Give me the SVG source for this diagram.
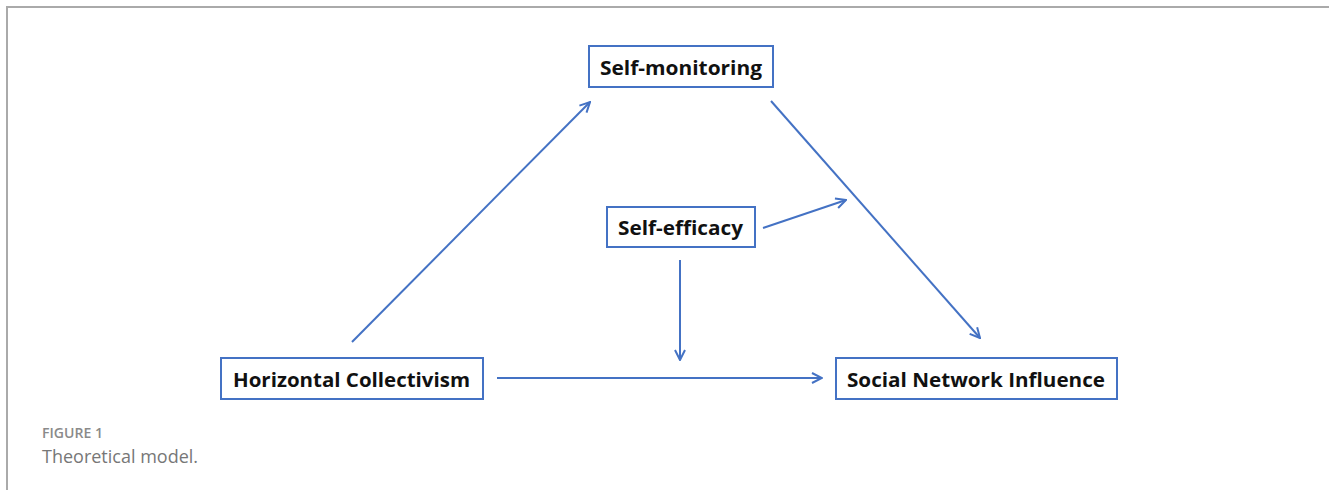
<svg xmlns="http://www.w3.org/2000/svg" width="1329" height="490" viewBox="0 0 1329 490">
<style>
.box{fill:#fff;stroke:#4472C4;stroke-width:2}
.lbl{font-family:"Open Sans","Liberation Sans",sans-serif;font-weight:bold;font-size:20px;fill:#111}
.con{stroke:#4472C4;stroke-width:2;fill:none;marker-end:url(#ah)}
.frame{stroke:#aaa;stroke-width:2;fill:none}
</style>
<defs>
<marker id="ah" viewBox="0 0 12 12" refX="11" refY="6" markerWidth="12" markerHeight="12" markerUnits="userSpaceOnUse" orient="auto">
<path d="M1,1 L11,6 L1,11" fill="none" stroke="#4472C4" stroke-width="2"/>
</marker>
</defs>
<rect width="1329" height="490" fill="#fff"/>
<path class="frame" d="M7,490 V7 H1329"/>
<g id="connectors">
<line class="con" x1="352" y1="342" x2="590" y2="102"/>
<line class="con" x1="771" y1="101" x2="980" y2="338"/>
<line class="con" x1="763" y1="228" x2="846" y2="200"/>
<line class="con" x1="680" y1="260" x2="680" y2="360"/>
<line class="con" x1="497" y1="378" x2="822" y2="378"/>
</g>
<g id="self-monitoring">
<rect class="box" x="589" y="46" width="184" height="41"/>
<text class="lbl" x="600" y="75" textLength="162" lengthAdjust="spacingAndGlyphs">Self-monitoring</text>
</g>
<g id="self-efficacy">
<rect class="box" x="607" y="207" width="148" height="40"/>
<text class="lbl" x="618" y="235" textLength="125" lengthAdjust="spacingAndGlyphs">Self-efficacy</text>
</g>
<g id="horizontal-collectivism">
<rect class="box" x="221" y="358" width="262" height="41"/>
<text class="lbl" x="233" y="387" textLength="237" lengthAdjust="spacingAndGlyphs">Horizontal Collectivism</text>
</g>
<g id="social-network-influence">
<rect class="box" x="836" y="358" width="281" height="41"/>
<text class="lbl" x="847" y="387" textLength="258" lengthAdjust="spacingAndGlyphs">Social Network Influence</text>
</g>
<g id="caption">
<text x="42" y="438" font-family="'Open Sans','Liberation Sans',sans-serif" font-weight="600" font-size="14" fill="#8a8a8a" textLength="61" lengthAdjust="spacingAndGlyphs">FIGURE 1</text>
<text x="42" y="463" font-family="'Open Sans','Liberation Sans',sans-serif" font-size="18" fill="#777">Theoretical model.</text>
</g>
</svg>
